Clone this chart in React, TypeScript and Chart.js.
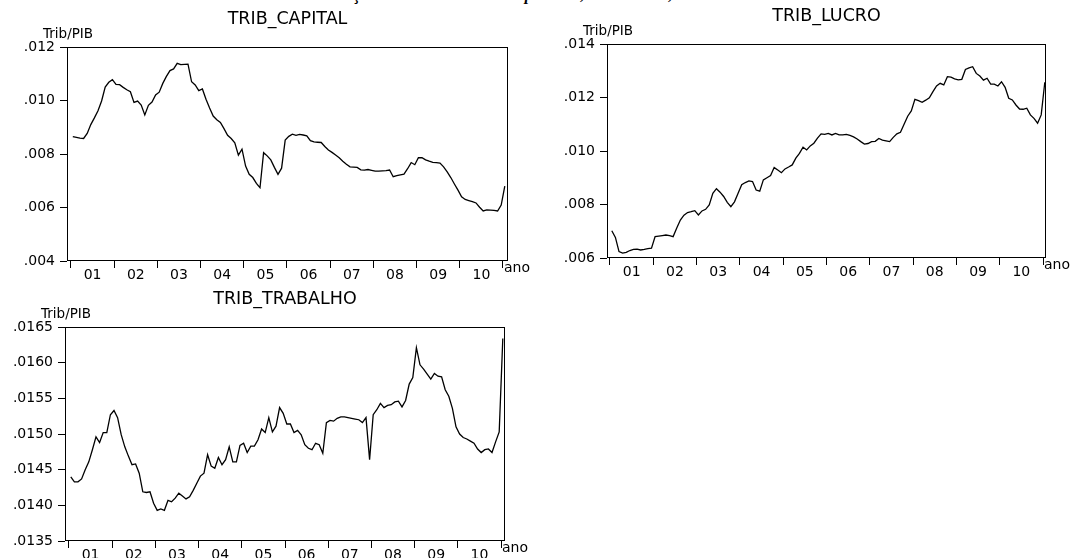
import React, { useEffect, useRef } from 'react';
import { Chart, registerables } from 'chart.js';

Chart.register(...registerables);

// ---------------- data ----------------
const pageTitle = 'Evolução dos tributos na renda por base, 2001 a 2010, Brasil';
const yearLabels = ['01', '02', '03', '04', '05', '06', '07', '08', '09', '10'];
const xEndLabel = 'ano';
const yUnitLabel = 'Trib/PIB';

const capitalTitle = 'TRIB_CAPITAL';
const capitalTicks = [0.004, 0.006, 0.008, 0.010, 0.012];
const capitalValues = [
  0.00865, 0.00862, 0.00859, 0.00858, 0.00877, 0.00910, 0.00935, 0.00962, 0.00998, 0.01050,
  0.01068, 0.01078, 0.01060, 0.01059, 0.01049, 0.01040, 0.01033, 0.00993, 0.00998, 0.00983,
  0.00946, 0.00982, 0.00994, 0.01021, 0.01031, 0.01064, 0.01090, 0.01112, 0.01118, 0.01139,
  0.01134, 0.01135, 0.01136, 0.01070, 0.01058, 0.01037, 0.01043, 0.01005, 0.00972, 0.00942,
  0.00928, 0.00918, 0.00895, 0.00870, 0.00858, 0.00842, 0.00796, 0.00818, 0.00755, 0.00724,
  0.00712, 0.00690, 0.00674, 0.00805, 0.00793, 0.00778, 0.00750, 0.00724, 0.00747, 0.00852,
  0.00866, 0.00874, 0.00870, 0.00873, 0.00871, 0.00868, 0.00850, 0.00845, 0.00844, 0.00843,
  0.00828, 0.00815, 0.00806, 0.00796, 0.00786, 0.00773, 0.00762, 0.00752, 0.00751, 0.00750,
  0.00741, 0.00740, 0.00742, 0.00739, 0.00736, 0.00736, 0.00737, 0.00738, 0.00740, 0.00715,
  0.00719, 0.00722, 0.00725, 0.00745, 0.00768, 0.00760, 0.00786, 0.00786, 0.00778, 0.00773,
  0.00769, 0.00768, 0.00766, 0.00752, 0.00733, 0.00712, 0.00688, 0.00665, 0.00640, 0.00630,
  0.00626, 0.00622, 0.00617, 0.00601, 0.00587, 0.00591, 0.00590, 0.00589, 0.00587, 0.00609,
  0.00680,
];

const lucroTitle = 'TRIB_LUCRO';
const lucroTicks = [0.006, 0.008, 0.010, 0.012, 0.014];
const lucroValues = [
  0.00702, 0.00677, 0.00624, 0.00618, 0.00621, 0.00628, 0.00632, 0.00633, 0.00630, 0.00632,
  0.00635, 0.00637, 0.00680, 0.00682, 0.00684, 0.00686, 0.00684, 0.00680, 0.00712, 0.00742,
  0.00760, 0.00770, 0.00773, 0.00777, 0.00761, 0.00776, 0.00782, 0.00798, 0.00842, 0.00859,
  0.00846, 0.00830, 0.00808, 0.00792, 0.00810, 0.00842, 0.00874, 0.00882, 0.00888, 0.00886,
  0.00854, 0.00850, 0.00892, 0.00900, 0.00908, 0.00938, 0.00929, 0.00919, 0.00933, 0.00940,
  0.00948, 0.00973, 0.00991, 0.01014, 0.01004, 0.01019, 0.01029, 0.01048, 0.01064, 0.01062,
  0.01066, 0.01060, 0.01066, 0.01060, 0.01060, 0.01062, 0.01058, 0.01053, 0.01045, 0.01035,
  0.01026, 0.01028, 0.01035, 0.01036, 0.01047, 0.01041, 0.01038, 0.01035, 0.01051, 0.01064,
  0.01070, 0.01100, 0.01130, 0.01150, 0.01193, 0.01188, 0.01182, 0.01190, 0.01199, 0.01222,
  0.01243, 0.01253, 0.01247, 0.01278, 0.01276, 0.01270, 0.01266, 0.01268, 0.01305, 0.01311,
  0.01315, 0.01290, 0.01280, 0.01265, 0.01272, 0.01250, 0.01250, 0.01243, 0.01259, 0.01238,
  0.01197, 0.01191, 0.01172, 0.01157, 0.01156, 0.01160, 0.01135, 0.01122, 0.01104, 0.01135,
  0.01257,
];

const trabalhoTitle = 'TRIB_TRABALHO';
const trabalhoTicks = [0.0135, 0.0140, 0.0145, 0.0150, 0.0155, 0.0160, 0.0165];
const trabalhoValues = [
  0.01440, 0.01433, 0.01433, 0.01437, 0.01450, 0.01461, 0.01478, 0.01496, 0.01488, 0.01502,
  0.01502, 0.01527, 0.01533, 0.01523, 0.01499, 0.01482, 0.01469, 0.01457, 0.01458, 0.01445,
  0.01419, 0.01418, 0.01419, 0.01403, 0.01393, 0.01395, 0.01393, 0.01407, 0.01405, 0.01410,
  0.01417, 0.01413, 0.01409, 0.01412, 0.01421, 0.01431, 0.01441, 0.01445, 0.01471, 0.01455,
  0.01452, 0.01467, 0.01457, 0.01464, 0.01482, 0.01461, 0.01461, 0.01484, 0.01487, 0.01474,
  0.01483, 0.01483, 0.01492, 0.01507, 0.01502, 0.01523, 0.01503, 0.01511, 0.01537, 0.01529,
  0.01514, 0.01514, 0.01502, 0.01505, 0.01499, 0.01485, 0.01480, 0.01478, 0.01487, 0.01485,
  0.01473, 0.01516, 0.01519, 0.01518, 0.01522, 0.01524, 0.01524, 0.01523, 0.01522, 0.01521,
  0.01520, 0.01516, 0.01523, 0.01464, 0.01527, 0.01534, 0.01543, 0.01537, 0.01540, 0.01541,
  0.01545, 0.01546, 0.01538, 0.01547, 0.01570, 0.01579, 0.01621, 0.01597, 0.01591, 0.01584,
  0.01577, 0.01585, 0.01581, 0.01580, 0.01562, 0.01553, 0.01536, 0.01510, 0.01500, 0.01495,
  0.01493, 0.01490, 0.01487, 0.01479, 0.01474, 0.01478, 0.01479, 0.01474, 0.01489, 0.01503,
  0.01634,
];

// ---------------- helpers ----------------
const yearBoundaries = Array.from({ length: yearLabels.length + 1 }, (_, k) => -0.5 + 12 * k);
const yearMids = yearLabels.map((_, k) => 5.5 + 12 * k);
const xTickValues = [...yearBoundaries, ...yearMids].sort((a, b) => a - b);
const midLabel = new Map<number, string>(yearMids.map((v, k) => [v, yearLabels[k]]));
const boundarySet = new Set<number>(yearBoundaries);

const FONT = 'DejaVu Sans';

const panelDecor = {
  id: 'panelDecor',
  afterDraw(chart: any, _args: any, opts: any) {
    const { ctx, chartArea: a, scales } = chart;
    ctx.save();
    ctx.strokeStyle = '#000';
    ctx.lineWidth = 1;
    ctx.strokeRect(a.left + 0.5, a.top + 0.5, a.right - a.left - 1, a.bottom - a.top - 1);
    ctx.fillStyle = '#000';
    ctx.textBaseline = 'alphabetic';
    ctx.font = `17.5px "${FONT}"`;
    ctx.textAlign = 'center';
    ctx.fillText(opts.title, (a.left + a.right) / 2, a.top - 23);
    ctx.font = `13.5px "${FONT}"`;
    ctx.textAlign = 'left';
    ctx.fillText(opts.unit, a.left - 24, a.top - 9);
    ctx.font = `14px "${FONT}"`;
    ctx.fillText(opts.end, scales.x.getPixelForValue(yearBoundaries[yearBoundaries.length - 1]) + 1, a.bottom + 11);
    ctx.restore();
  },
};

type PanelProps = {
  title: string;
  values: number[];
  yTicks: number[];
  decimals: number;
  left: number;
  top: number;
  width: number;
  height: number;
  area: { l: number; r: number; t: number; b: number };
  xMin: number;
  xMax: number;
};

function Panel(p: PanelProps) {
  const ref = useRef<HTMLCanvasElement | null>(null);
  useEffect(() => {
    if (!ref.current) return;
    const chart = new Chart(ref.current, {
      type: 'line',
      data: {
        datasets: [
          {
            data: p.values.map((v, i) => ({ x: i, y: v })),
            borderColor: '#000',
            borderWidth: 1.3,
            pointRadius: 0,
            tension: 0,
            fill: false,
          },
        ],
      },
      options: {
        animation: false,
        responsive: false,
        devicePixelRatio: 1,
        events: [],
        layout: { padding: { left: 0, right: p.width - p.area.r, top: p.area.t, bottom: 0 } },
        plugins: {
          legend: { display: false },
          tooltip: { enabled: false },
          title: { display: false },
          panelDecor: { title: p.title, unit: yUnitLabel, end: xEndLabel },
        } as any,
        scales: {
          x: {
            type: 'linear',
            min: p.xMin,
            max: p.xMax,
            afterFit: (s: any) => {
              s.height = p.height - p.area.b;
            },
            afterBuildTicks: (s: any) => {
              s.ticks = xTickValues.map((v) => ({ value: v }));
            },
            ticks: {
              autoSkip: false,
              maxRotation: 0,
              minRotation: 0,
              padding: -1,
              color: '#000',
              font: { family: FONT, size: 14 },
              callback: (v: any) => midLabel.get(Number(v)) ?? '',
            },
            grid: {
              drawOnChartArea: false,
              drawTicks: true,
              tickLength: 7,
              tickWidth: 1,
              tickColor: (ctx: any) => (ctx.tick && boundarySet.has(ctx.tick.value) ? '#000' : 'rgba(0,0,0,0)'),
            },
            border: { display: false },
          },
          y: {
            type: 'linear',
            min: p.yTicks[0],
            max: p.yTicks[p.yTicks.length - 1],
            afterFit: (s: any) => {
              s.width = p.area.l;
            },
            afterBuildTicks: (s: any) => {
              s.ticks = p.yTicks.map((v) => ({ value: v }));
            },
            ticks: {
              padding: 5,
              color: '#000',
              font: { family: FONT, size: 14 },
              callback: (v: any) => Number(v).toFixed(p.decimals).replace(/^0/, ''),
            },
            grid: {
              drawOnChartArea: false,
              drawTicks: true,
              tickLength: 7,
              tickWidth: 1,
              tickColor: '#000',
            },
            border: { display: false },
          },
        },
      } as any,
      plugins: [panelDecor as any],
    });
    return () => chart.destroy();
  }, []);
  return (
    <canvas
      ref={ref}
      width={p.width}
      height={p.height}
      style={{ position: 'absolute', left: p.left, top: p.top, width: p.width, height: p.height }}
    />
  );
}

export default function App() {
  return (
    <div
      style={{
        position: 'absolute',
        left: 0,
        top: 0,
        width: 1071,
        height: 558,
        overflow: 'hidden',
        background: '#fff',
      }}
    >
      <div
        style={{
          position: 'absolute',
          left: -20,
          top: -15,
          width: 1071,
          textAlign: 'center',
          font: 'italic bold 16px "Liberation Serif"',
          lineHeight: '20px',
          whiteSpace: 'nowrap',
          color: '#000',
        }}
      >
        {pageTitle}
      </div>
      <Panel
        title={capitalTitle}
        values={capitalValues}
        yTicks={capitalTicks}
        decimals={3}
        left={0}
        top={0}
        width={540}
        height={290}
        area={{ l: 67, r: 508, t: 47, b: 261 }}
        xMin={-1.61}
        xMax={120.89}
      />
      <Panel
        title={lucroTitle}
        values={lucroValues}
        yTicks={lucroTicks}
        decimals={3}
        left={540}
        top={0}
        width={531}
        height={290}
        area={{ l: 67, r: 506, t: 44, b: 258 }}
        xMin={-1.33}
        xMax={120.33}
      />
      <Panel
        title={trabalhoTitle}
        values={trabalhoValues}
        yTicks={trabalhoTicks}
        decimals={4}
        left={0}
        top={285}
        width={540}
        height={273}
        area={{ l: 65, r: 505, t: 42, b: 256 }}
        xMin={-1.61}
        xMax={120.61}
      />
    </div>
  );
}
